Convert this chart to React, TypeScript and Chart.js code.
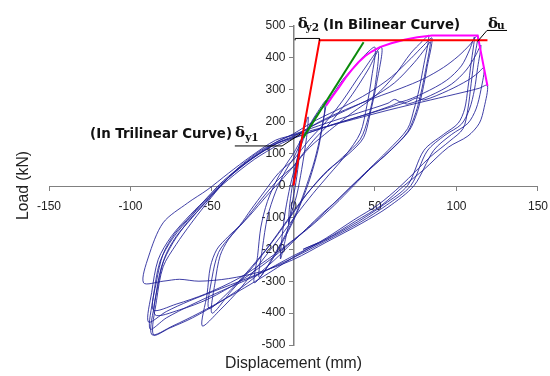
import React, { useEffect, useRef } from 'react';
import { Chart, registerables } from 'chart.js';

Chart.register(...registerables);

type P = [number, number];

// ---- hysteresis cycles (displacement mm, load kN) ----
const cycle01: P[] = [[0,0],[2,70],[4,140],[3.5,90],[1.5,10],[-1,-60],[-3,-120],[-2.5,-70],[-1,-10],[0,20]];
const cycle02: P[] = [[0,20],[3,100],[6,170],[9,215],[8,150],[5,50],[2,-30],[-2,-100],[-5,-170],[-8,-230],[-7,-160],[-5,-80],[-2,0],[0,40]];
const cycle03: P[] = [[0,40],[5,130],[10,190],[15,232],[20,266],[18,195],[15,110],[10,20],[5,-50],[0,-110],[-6,-170],[-14,-240],[-24,-305],[-22,-220],[-20,-130],[-16,-50],[-10,20],[-4,70],[0,100]];
const cycle04: P[] = [[0,100],[6,155],[12,200],[19,248],[17,170],[13,80],[8,0],[3,-70],[-3,-135],[-11,-210],[-21,-288],[-19,-195],[-16,-100],[-11,-20],[-5,45],[0,85]];
const cycle05: P[] = [[0,85],[7,160],[14,220],[22,270],[30,330],[36,365],[43,405],[50,433],[48,340],[45,250],[41,165],[32,95],[22,35],[12,-25],[2,-90],[-8,-160],[-20,-240],[-33,-325],[-45,-390],[-56,-440],[-53,-340],[-51,-255],[-47,-200],[-40,-160],[-33,-125],[-26,-75],[-18,-20],[-9,40],[0,80]];
const cycle06: P[] = [[0,80],[10,145],[20,200],[30,265],[42,355],[54,433],[51,320],[47,225],[43,150],[34,100],[21,48],[10,-15],[0,-85],[-12,-170],[-25,-255],[-38,-330],[-50,-400],[-48,-300],[-45,-220],[-40,-170],[-30,-110],[-20,-45],[-10,15],[0,60]];
const cycle06b: P[] = [[0,60],[12,140],[24,205],[36,285],[46,365],[52,420],[50,310],[46,215],[41,145],[30,88],[18,30],[6,-40],[-4,-110],[-16,-195],[-30,-280],[-42,-345],[-52,-385],[-50,-290],[-46,-210],[-38,-155],[-27,-95],[-16,-30],[-6,25],[0,60]];
const cycle07: P[] = [[0,60],[10,120],[22,172],[36,228],[50,280],[62,345],[72,415],[79,452],[83,470],[80,380],[77,300],[74,240],[70,178],[58,110],[46,50],[36,0],[26,-50],[18,-86],[8,-135],[0,-175],[-12,-235],[-28,-305],[-45,-365],[-62,-415],[-76,-447],[-86,-468],[-84,-360],[-80,-255],[-72,-185],[-63,-120],[-55,-67],[-46,-10],[-34,55],[-20,110],[-8,142],[0,162]];
const cycle08: P[] = [[0,162],[14,205],[30,245],[46,290],[60,340],[72,398],[80,440],[85,462],[82,372],[79,292],[76,232],[71,172],[60,112],[47,52],[37,0],[25,-62],[12,-122],[0,-172],[-15,-235],[-33,-300],[-52,-355],[-70,-390],[-85,-405],[-83,-310],[-79,-225],[-72,-160],[-62,-100],[-52,-40],[-42,15],[-28,75],[-12,128],[0,155]];
const cycle08b: P[] = [[0,155],[15,195],[32,235],[48,275],[62,322],[74,385],[81,430],[84,450],[81,360],[78,285],[75,228],[70,168],[59,108],[46,48],[35,-5],[22,-70],[10,-128],[0,-170],[-16,-232],[-34,-292],[-54,-340],[-72,-372],[-86,-390],[-84,-300],[-80,-215],[-73,-152],[-63,-95],[-53,-38],[-43,15],[-29,72],[-13,125],[0,152]];
const cycle09: P[] = [[0,152],[16,200],[32,238],[50,275],[66,305],[80,335],[92,370],[101,405],[108,440],[113,470],[111,400],[109,320],[107,240],[104,178],[96,140],[84,90],[66,0],[52,-60],[37,-108],[20,-165],[0,-225],[-20,-290],[-40,-350],[-58,-400],[-74,-440],[-87,-467],[-85,-365],[-81,-255],[-74,-180],[-65,-115],[-56,-65],[-48,-20],[-38,35],[-24,92],[-10,138],[0,160]];
const cycle10: P[] = [[0,160],[20,195],[40,228],[58,258],[62,270],[66,262],[80,290],[94,330],[103,375],[108,425],[111,465],[109,385],[107,305],[105,240],[101,195],[92,160],[80,110],[70,0],[56,-58],[40,-112],[18,-175],[0,-220],[-22,-280],[-44,-330],[-63,-375],[-78,-415],[-88,-450],[-86,-350],[-82,-240],[-74,-165],[-62,-92],[-52,-38],[-40,18],[-24,82],[-9,128],[0,148]];
const cycle10b: P[] = [[0,148],[22,188],[44,222],[60,250],[66,262],[70,255],[84,282],[97,318],[106,362],[112,410],[115,440],[113,370],[111,300],[108,240],[103,192],[93,158],[82,108],[72,0],[57,-62],[41,-115],[19,-176],[0,-226],[-22,-278],[-44,-322],[-64,-362],[-78,-395],[-89,-428],[-87,-335],[-83,-232],[-75,-160],[-63,-90],[-52,-35],[-41,20],[-25,85],[-10,132],[0,150]];
const cycle11: P[] = [[0,150],[24,190],[48,228],[70,262],[76,275],[80,268],[95,298],[107,330],[113,352],[117,370],[115,300],[112,240],[107,195],[97,160],[86,110],[74,0],[58,-68],[42,-118],[20,-178],[0,-232],[-20,-270],[-40,-292],[-58,-300],[-70,-294],[-80,-300],[-92,-305],[-89,-224],[-80,-117],[-65,-55],[-53,-14],[-40,38],[-26,92],[-11,142],[0,158]];
const cycle12: P[] = [[0,158],[30,198],[58,236],[84,268],[104,292],[114,305],[119,314],[117,245],[114,195],[107,155],[95,120],[80,50],[68,0],[54,-62],[38,-112],[20,-168],[6,-200],[9,-193],[15,-180]];

const hysteresisCycles: P[][] = [cycle01, cycle02, cycle03, cycle04, cycle05, cycle06, cycle06b, cycle07, cycle08, cycle08b, cycle09, cycle10, cycle10b, cycle11, cycle12];

// ---- idealised curves ----
const bilinearCurve: P[] = [[0,0],[16,455],[119,455]];
const trilinearInitial: P[] = [[6,150],[43,449]];
const envelopeCurve: P[] = [[20,250],[24,280],[28,308],[32,338],[36,364],[40,387],[44,406],[48,420],[53,434],[60,446],[68,457],[76,465],[85,470],[113,470],[119,312]];

// ---- leader lines of the labels ----
const leaderY1: P[] = [[-36,124],[-7,124],[5,164]];
const leaderY2: P[] = [[1,455],[1,461],[15.8,461],[16,455]];
const leaderU: P[] = [[113,452],[118.7,486],[131,486]];

// ---- axes ----
const xRange = { min: -150, max: 150, step: 50 };
const yRange = { min: -500, max: 500, step: 100 };
const xTitle = 'Displacement (mm)';
const yTitle = 'Load (kN)';

const toXY = (pts: P[]) => pts.map(([x, y]) => ({ x, y }));

function fitFont(ctx: CanvasRenderingContext2D, text: string, target: number, weight: string, family: string) {
  ctx.font = `${weight} 20px ${family}`;
  const w = ctx.measureText(text).width;
  const size = (20 * target) / w;
  ctx.font = `${weight} ${size.toFixed(2)}px ${family}`;
}

const labelsPlugin = {
  id: 'labelsPlugin',
  afterDraw(chart: any) {
    const { ctx, scales, chartArea } = chart;
    const xs = scales.x, ys = scales.y;
    const px = (v: number) => xs.getPixelForValue(v);
    const py = (v: number) => ys.getPixelForValue(v);
    ctx.save();
    ctx.fillStyle = '#111';
    ctx.textBaseline = 'alphabetic';
    ctx.textAlign = 'left';

    const sans = '"DejaVu Sans"';
    const serif = '"DejaVu Serif"';

    // δy2 (In Bilinear Curve)
    ctx.font = `bold 15px ${serif}`;
    ctx.fillText('δ', px(2.6), py(495));
    ctx.font = `bold 10.5px ${serif}`;
    ctx.fillText('y2', px(7.4), py(484));
    fitFont(ctx, '(In Bilinear Curve)', 137, 'bold', sans);
    ctx.fillText('(In Bilinear Curve)', px(18.1), py(491));

    // δu
    ctx.font = `bold 15px ${serif}`;
    ctx.fillText('δ', px(119.3), py(495));
    ctx.font = `bold 10.5px ${serif}`;
    ctx.fillText('u', px(124.8), py(490));

    // (In Trilinear Curve) δy1
    fitFont(ctx, '(In Trilinear Curve)', 142, 'bold', sans);
    ctx.fillText('(In Trilinear Curve)', px(-124.8), py(150));
    ctx.font = `bold 15px ${serif}`;
    ctx.fillText('δ', px(-35.9), py(153));
    ctx.font = `bold 10.5px ${serif}`;
    ctx.fillText('y1', px(-29.6), py(140));

    // axis titles
    ctx.fillStyle = '#222';
    fitFont(ctx, xTitle, 137, 'normal', '"Liberation Sans"');
    ctx.textAlign = 'center';
    ctx.fillText(xTitle, px(0), chartArea.bottom + 23);

    fitFont(ctx, yTitle, 69, 'normal', '"Liberation Sans"');
    ctx.translate(chartArea.left - 25, py(0));
    ctx.rotate(-Math.PI / 2);
    ctx.textBaseline = 'middle';
    ctx.fillText(yTitle, 0, 0);
    ctx.restore();
  },
};

export default function App() {
  const ref = useRef<HTMLCanvasElement>(null);
  useEffect(() => {
    if (!ref.current) return;
    const lineBase = { showLine: true, pointRadius: 0, pointHoverRadius: 0, fill: false };
    const datasets: any[] = [
      { ...lineBase, data: toXY(leaderY1), borderColor: '#000', borderWidth: 1, tension: 0 },
      { ...lineBase, data: toXY(leaderY2), borderColor: '#000', borderWidth: 1, tension: 0 },
      { ...lineBase, data: toXY(leaderU), borderColor: '#000', borderWidth: 1, tension: 0 },
      { ...lineBase, data: toXY(bilinearCurve), borderColor: '#ff0000', borderWidth: 2, tension: 0 },
      { ...lineBase, data: toXY(envelopeCurve), borderColor: '#ff00ff', borderWidth: 2, tension: 0 },
      { ...lineBase, data: toXY(trilinearInitial), borderColor: '#0a8a0a', borderWidth: 2, tension: 0 },
      ...hysteresisCycles.map((c) => ({
        ...lineBase,
        data: toXY(c),
        borderColor: 'rgba(30,30,150,0.85)',
        borderWidth: 1,
        tension: 0.3,
      })),
    ];
    const tickFont = { family: '"Liberation Sans"', size: 12 };
    const chart = new Chart(ref.current, {
      type: 'scatter',
      data: { datasets },
      plugins: [labelsPlugin],
      options: {
        animation: false,
        responsive: true,
        maintainAspectRatio: false,
        layout: { padding: { left: 49, right: 20, top: 26, bottom: 31 } },
        plugins: { legend: { display: false }, tooltip: { enabled: false } },
        scales: {
          x: {
            type: 'linear',
            min: xRange.min,
            max: xRange.max,
            position: 'center',
            ticks: { stepSize: xRange.step, color: '#222', font: tickFont, padding: 10, maxRotation: 0 },
            grid: { drawOnChartArea: false, drawTicks: true, tickLength: 4, color: '#808080' },
            border: { color: '#808080', width: 1 },
            afterFit: (s: any) => { s.height = 0; },
          },
          y: {
            type: 'linear',
            min: yRange.min,
            max: yRange.max,
            position: 'center',
            ticks: { stepSize: yRange.step, color: '#222', font: tickFont, padding: 4 },
            grid: { drawOnChartArea: false, drawTicks: true, tickLength: 4, color: '#808080' },
            border: { color: '#808080', width: 1.5 },
            afterFit: (s: any) => { s.width = 0; },
          },
        },
      } as any,
    });
    return () => chart.destroy();
  }, []);
  return (
    <div style={{ position: 'fixed', left: 0, top: 0, width: 550, height: 376, overflow: 'hidden', background: '#fff' }}>
      <div style={{ width: 558, height: 376 }}>
        <canvas ref={ref} />
      </div>
    </div>
  );
}
